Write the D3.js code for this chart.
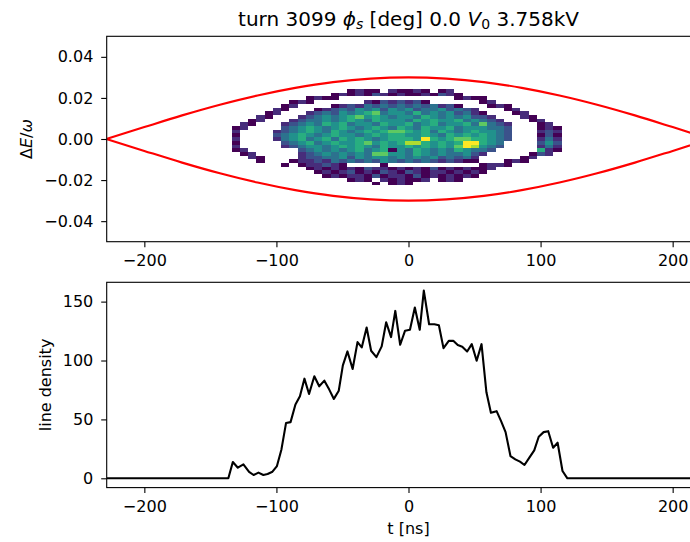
<!DOCTYPE html>
<html><head><meta charset="utf-8">
<script src="https://cdn.jsdelivr.net/npm/d3@7/dist/d3.min.js"></script>
<style>
body{margin:0;background:#fff;overflow:hidden}
svg{display:block}
text{font-family:"DejaVu Sans",sans-serif;fill:#000}
</style>
</head><body>
<svg id="c" width="690" height="542"></svg>
<script>
// ---------------- data ----------------
const tRange = [-228.5, 228.5];          // ns
const dERange = [-0.05, 0.05];
const densRange = [-7.9, 166.4];
const xTicks = [-200, -100, 0, 100, 200];
const dETicks = [-0.04, -0.02, 0.00, 0.02, 0.04];
const densTicks = [0, 50, 100, 150];

// separatrix (upper and lower branches)
const sepT     = [-228.5,-200,-171.4,-142.8,-114.3,-85.7,-57.1,-28.6,0,28.6,57.1,85.7,114.3,142.8,171.4,200,228.5];
const sepUpper = [0,0.0058,0.0115,0.0167,0.0212,0.0249,0.0277,0.0294,0.0300,0.0294,0.0277,0.0249,0.0212,0.0167,0.0115,0.0058,0];
const sepLower = [0,-0.0058,-0.0115,-0.0167,-0.0212,-0.0249,-0.0277,-0.0294,-0.0300,-0.0294,-0.0277,-0.0249,-0.0212,-0.0167,-0.0115,-0.0058,0];

// 2D histogram: bin grid and per-row counts (1..9, '.' = empty)
const histTStart = -134, histTWidth = 6.25;
const histEStart = 0.0243, histEHeight = 0.0018;
const histMaxLevel = 9;
const histRows = [
".......... ....1211.2 1121.12... ..........",
".......... ..12121321 21121321.. ..........",
".........1 211....... .......121 1.........",
".......121 ......2132 3231...... 12........",
"......12.. ..12324343 43434231.. .121......",
".....21... 1234354535 4534453432 ...12.....",
"....12...2 3435456745 5464545342 1...12....",
"...21...23 4545675654 5546545453 32...21...",
"..12...234 4545654655 5465655645 432...12..",
".21...2345 4656455465 5645645564 7432...12.",
"12....3456 5456545654 6546556455 5443...121",
"2....23456 5465456567 7656465456 5543...232",
"1....34565 4565545656 6556546565 6543...131",
"2....24564 5646565456 6659656776 6543...242",
"1.....3456 4565567565 6886565699 654....353",
"2.....2345 5456565465 5656565798 543....242",
"12......34 5454564561 5465454654 43.....621",
".12.....23 4545454775 5465454453 2.....132.",
"..21....23 3445354554 5454534342 .....12...",
"...1...122 3243434354 3434323211 ...121....",
"......1.12 2321....1. .......... 1221......",
".........1 2121213221 2121312121 12........",
".......... 1212312132 1321221212 1.........",
".......... .121221312 2131212121 ..........",
".......... ....121.21 2112.121.. ..........",
".......... .......1.1 21........ .........."
];

// line density
const densT = [-228.5,-136.4,-133,-129.2,-125,-120.7,-117.3,-113.6,-109.9,-106.7,-103,-99.6,-96.2,-92.7,-89.3,-85.6,-82.2,-78.8,-75.3,-71.3,-67.6,-63.7,-60,-56.5,-52.8,-49.7,-46.2,-42.3,-38.6,-35.4,-31.7,-28.3,-24.3,-20.3,-16.9,-13.2,-10,-6.3,-2.6,1.1,4.8,8.5,11.6,15.6,19.6,23,26.5,30.5,33.9,37.3,40.7,44.4,47.9,51.6,55.3,59,62.4,66.7,70.1,73.5,77.2,80.9,84.4,87.8,91.5,95.2,98.6,102.3,105.8,109.5,112.9,116.6,120.3,228.5];
const densV = [0,0,13.8,9,11.8,5.4,2.8,4.8,2.8,3.7,5.6,10.4,24.5,47,47.7,62.6,69.7,84.6,71.6,86.6,78.1,82.9,75.3,67.4,74.4,95.9,107.7,92.8,115.6,111.1,128,108.3,102.9,112,132.5,119.9,142.1,113.4,125.3,126.1,145,126.1,159.3,130.8,130.8,130,110.5,116.7,116.7,113.1,111.7,107.7,113.9,99.8,113.9,73,55.6,57,48.5,39.2,18.9,16.1,14.1,11.3,17.5,23.7,35.3,39.2,40,25.9,30.2,6.2,0,0];

// ---------------- drawing ----------------
const svg = d3.select("#c");
const L = 106.7, R = 710.3;
const top1 = 36.3, bot1 = 241.7, top2 = 282.3, bot2 = 487.6;
const FS = 16, TICK = 5.5;

const x = d3.scaleLinear().domain(tRange).range([L, R]);
const y1 = d3.scaleLinear().domain(dERange).range([bot1, top1]);
const y2 = d3.scaleLinear().domain(densRange).range([bot2, top2]);
const color = d3.scaleSequential(d3.interpolateViridis).domain([1, histMaxLevel]);

const defs = svg.append("defs");
defs.append("clipPath").attr("id","clip1").append("rect")
  .attr("x",L).attr("y",top1).attr("width",R-L).attr("height",bot1-top1);
defs.append("clipPath").attr("id","clip2").append("rect")
  .attr("x",L).attr("y",top2).attr("width",R-L).attr("height",bot2-top2);

const minus = s => String(s).replace("-", "\u2212");

// --- top panel: histogram
const cells = [];
histRows.forEach((row, r) => {
  const s = row.replace(/ /g, "");
  for (let c = 0; c < s.length; c++) {
    const ch = s[c];
    if (ch !== ".") cells.push({c, r, v: +ch});
  }
});
const p1 = svg.append("g").attr("clip-path","url(#clip1)");
p1.selectAll("rect.cell").data(cells).join("rect")
  .attr("class","cell")
  .attr("x", d => x(histTStart + d.c*histTWidth))
  .attr("width", d => x(histTStart + (d.c+1)*histTWidth) - x(histTStart + d.c*histTWidth))
  .attr("y", d => y1(histEStart - d.r*histEHeight))
  .attr("height", d => y1(histEStart - (d.r+1)*histEHeight) - y1(histEStart - d.r*histEHeight))
  .attr("fill", d => color(d.v))
  .attr("shape-rendering","crispEdges");

const sepLine = d3.line().x((d,i) => x(sepT[i])).y(d => y1(d)).curve(d3.curveMonotoneX);
p1.append("path").attr("d", sepLine(sepUpper)).attr("fill","none").attr("stroke","#ff0000").attr("stroke-width",2.1);
p1.append("path").attr("d", sepLine(sepLower)).attr("fill","none").attr("stroke","#ff0000").attr("stroke-width",2.1);

// --- bottom panel: line density
const p2 = svg.append("g").attr("clip-path","url(#clip2)");
const densLine = d3.line().x((d,i) => x(densT[i])).y(d => y2(d));
p2.append("path").attr("d", densLine(densV)).attr("fill","none").attr("stroke","#000")
  .attr("stroke-width",2.1).attr("stroke-linejoin","round");

// --- axes
function styleAxis(g){
  g.attr("font-family","DejaVu Sans").attr("font-size",FS);
  g.select(".domain").remove();
  g.selectAll(".tick line").attr("stroke","#000").attr("stroke-width",1.1);
  g.selectAll(".tick text").attr("fill","#000");
}
const xFmt = d => minus(d);
svg.append("g").attr("transform",`translate(0,${bot1})`)
  .call(d3.axisBottom(x).tickValues(xTicks).tickSize(TICK).tickPadding(7.2).tickFormat(xFmt)).call(styleAxis);
svg.append("g").attr("transform",`translate(0,${bot2})`)
  .call(d3.axisBottom(x).tickValues(xTicks).tickSize(TICK).tickPadding(7.2).tickFormat(xFmt)).call(styleAxis);
svg.append("g").attr("transform",`translate(${L},0)`)
  .call(d3.axisLeft(y1).tickValues(dETicks).tickSize(TICK).tickPadding(7.9).tickFormat(d => minus(d3.format(".2f")(d)))).call(styleAxis);
svg.append("g").attr("transform",`translate(${L},0)`)
  .call(d3.axisLeft(y2).tickValues(densTicks).tickSize(TICK).tickPadding(7.9).tickFormat(d => d)).call(styleAxis);

// spines
[[top1,bot1],[top2,bot2]].forEach(([t,b]) => {
  svg.append("rect").attr("x",L).attr("y",t).attr("width",R-L).attr("height",b-t)
    .attr("fill","none").attr("stroke","#000").attr("stroke-width",1.1);
});

// title
const title = svg.append("text").attr("x", (L+R)/2).attr("y", 26).attr("text-anchor","middle").attr("font-size",20);
title.append("tspan").text("turn 3099 ");
title.append("tspan").attr("font-style","italic").text("\u03D5");
title.append("tspan").attr("font-style","italic").attr("font-size",14).attr("dy",3.3).text("s");
title.append("tspan").attr("dy",-3.3).text(" [deg] 0.0 ");
title.append("tspan").attr("font-style","italic").text("V");
title.append("tspan").attr("font-size",14).attr("dy",3.3).text("0");
title.append("tspan").attr("dy",-3.3).text(" 3.758kV");

// y labels
const yl1 = svg.append("text").attr("transform",`translate(31.5,${(top1+bot1)/2}) rotate(-90)`)
  .attr("text-anchor","middle").attr("font-size",FS);
yl1.append("tspan").text("\u0394");
yl1.append("tspan").attr("font-style","italic").text("E");
yl1.append("tspan").text("/");
yl1.append("tspan").attr("font-style","italic").text("\u03C9");

svg.append("text").attr("transform",`translate(50.5,${(top2+bot2)/2}) rotate(-90)`)
  .attr("text-anchor","middle").attr("font-size",FS).text("line density");

// x label
svg.append("text").attr("x",(L+R)/2).attr("y",534).attr("text-anchor","middle").attr("font-size",FS).text("t [ns]");
</script>
</body></html>
